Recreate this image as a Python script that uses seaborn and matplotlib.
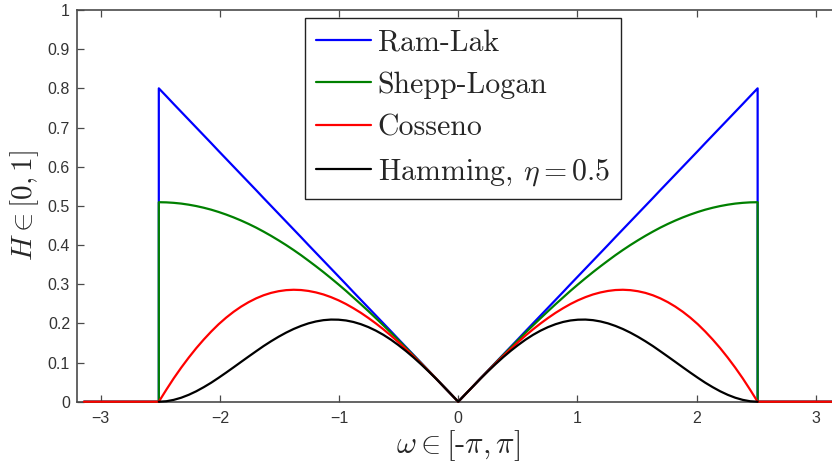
import matplotlib
matplotlib.use("Agg")
import matplotlib.pyplot as plt
import seaborn as sns
import pandas as pd

# ---- data (right half; the curves are symmetric) ----
freq_half = [0.000, 0.063, 0.126, 0.188, 0.251, 0.314, 0.377, 0.440, 0.503, 0.565,
             0.628, 0.691, 0.754, 0.817, 0.880, 0.942, 1.005, 1.068, 1.131, 1.194,
             1.257, 1.319, 1.382, 1.445, 1.508, 1.571, 1.634, 1.696, 1.759, 1.822,
             1.885, 1.948, 2.011, 2.073, 2.136, 2.199, 2.262, 2.325, 2.388, 2.450, 2.513]
cutoff = 2.513
freq_max = 3.1416
ramlak_half = [0.00, 0.02, 0.04, 0.06, 0.08, 0.10, 0.12, 0.14, 0.16, 0.18,
               0.20, 0.22, 0.24, 0.26, 0.28, 0.30, 0.32, 0.34, 0.36, 0.38,
               0.40, 0.42, 0.44, 0.46, 0.48, 0.50, 0.52, 0.54, 0.56, 0.58,
               0.60, 0.62, 0.64, 0.66, 0.68, 0.70, 0.72, 0.74, 0.76, 0.78, 0.80]
shepp_half = [0.0000, 0.0200, 0.0400, 0.0599, 0.0797, 0.0994, 0.1189, 0.1382, 0.1574, 0.1763,
              0.1949, 0.2132, 0.2312, 0.2489, 0.2661, 0.2830, 0.2994, 0.3153, 0.3308, 0.3457,
              0.3601, 0.3740, 0.3873, 0.4000, 0.4120, 0.4235, 0.4343, 0.4444, 0.4538, 0.4625,
              0.4705, 0.4778, 0.4844, 0.4902, 0.4952, 0.4995, 0.5030, 0.5058, 0.5077, 0.5089, 0.5093]
cosine_half = [0.0000, 0.0200, 0.0399, 0.0596, 0.0790, 0.0981, 0.1167, 0.1347, 0.1522, 0.1689,
               0.1848, 0.1998, 0.2138, 0.2269, 0.2387, 0.2494, 0.2589, 0.2670, 0.2738, 0.2790,
               0.2828, 0.2851, 0.2858, 0.2848, 0.2821, 0.2778, 0.2717, 0.2639, 0.2542, 0.2428,
               0.2296, 0.2146, 0.1978, 0.1792, 0.1587, 0.1366, 0.1126, 0.0870, 0.0596, 0.0306, 0.0000]
hamming_half = [0.0000, 0.0200, 0.0398, 0.0592, 0.0780, 0.0962, 0.1135, 0.1297, 0.1447, 0.1584,
                0.1707, 0.1814, 0.1905, 0.1979, 0.2036, 0.2074, 0.2094, 0.2097, 0.2082, 0.2049,
                0.2000, 0.1935, 0.1856, 0.1763, 0.1658, 0.1543, 0.1420, 0.1289, 0.1154, 0.1017,
                0.0879, 0.0743, 0.0611, 0.0486, 0.0371, 0.0266, 0.0176, 0.0102, 0.0047, 0.0012, 0.0000]

series_names = ["Ram-Lak", "Shepp-Logan", "Cosseno", r"Hamming, $\eta = 0.5$"]
series_colors = ["#0000ff", "#008000", "#ff0000", "#000000"]
x_ticks = [-3, -2, -1, 0, 1, 2, 3]
x_ticklabels = ["\u22123", "\u22122", "\u22121", "0", "1", "2", "3"]
y_ticks = [0, 0.1, 0.2, 0.3, 0.4, 0.5, 0.6, 0.7, 0.8, 0.9, 1]
y_ticklabels = ["0", "0.1", "0.2", "0.3", "0.4", "0.5", "0.6", "0.7", "0.8", "0.9", "1"]


def full_series(half, extend=True):
    xs = [-v for v in reversed(freq_half)] + freq_half[1:]
    ys = list(reversed(half)) + half[1:]
    if extend:
        xs = [-freq_max, -cutoff] + xs + [cutoff, freq_max]
        ys = [0, 0] + ys + [0, 0]
    return xs, ys


rows = []
for name, half, ext in zip(series_names,
                           [ramlak_half, shepp_half, cosine_half, hamming_half],
                           [True, True, True, False]):
    xs, ys = full_series(half, ext)
    for i, (xv, yv) in enumerate(zip(xs, ys)):
        rows.append({"w": xv, "H": yv, "filtro": name, "order": i})
df = pd.DataFrame(rows)

sns.set_style("white")
plt.rcParams["mathtext.fontset"] = "cm"
plt.rcParams["font.family"] = ["Liberation Sans", "DejaVu Sans"]

fig = plt.figure(figsize=(8.32, 4.65), dpi=100)
ax = fig.add_axes([0.0925, 0.1361, 0.9165, 0.8424])

for name, col in zip(series_names, series_colors):
    sub = df[df["filtro"] == name]
    sns.lineplot(data=sub, x="w", y="H", ax=ax, color=col, label=name,
                 sort=False, estimator=None, linewidth=1.6, clip_on=False, zorder=3)

ax.set_xlim(-3.2, 3.2)
ax.set_ylim(0, 1)
ax.set_xticks(x_ticks)
ax.set_xticklabels(x_ticklabels)
ax.set_yticks(y_ticks)
ax.set_yticklabels(y_ticklabels)

spine_col = "#4a4a4a"
for s in ax.spines.values():
    s.set_visible(True)
    s.set_color(spine_col)
    s.set_linewidth(1.2)
ax.tick_params(axis="both", direction="in", length=5, width=0.9, color=spine_col,
               labelcolor="#333333", labelsize=11.5, pad=5,
               top=True, right=True, bottom=True, left=True)
ax.tick_params(axis="x", pad=7)

ax.set_xlabel(r"$\omega \in [\text{-}\pi, \pi]$", fontsize=22, labelpad=1)
ax.set_ylabel(r"$H \in [0, 1]$", fontsize=21, labelpad=5)

leg = ax.legend(loc="upper left", bbox_to_anchor=(0.299, 0.98), borderaxespad=0,
                prop={"family": "cmr10", "size": 21.5}, fancybox=False, framealpha=1,
                edgecolor="#222222", handlelength=1.84, handletextpad=0.22,
                borderpad=0.37, labelspacing=0.5)
leg.get_frame().set_linewidth(1.0)
for h in leg.get_lines():
    h.set_linewidth(1.6)

fig.savefig("out.png", dpi=100)
